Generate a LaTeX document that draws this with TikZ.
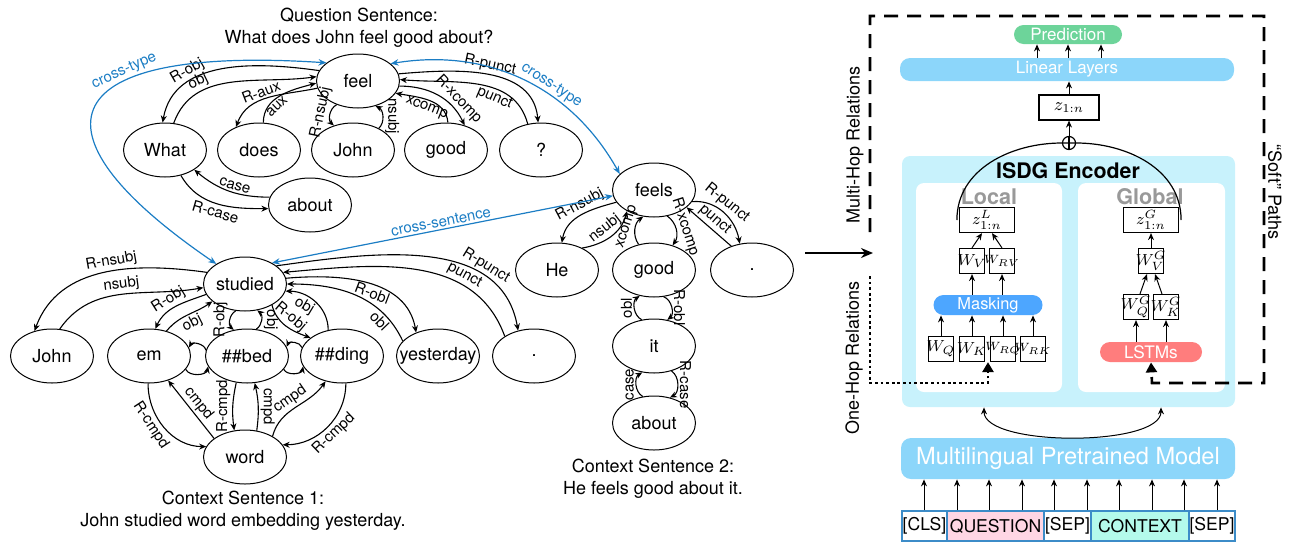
\documentclass[tikz,border=0pt]{standalone}
\usepackage{fontspec}
\setmainfont{TeX Gyre Heros}
\usetikzlibrary{arrows.meta,shapes.geometric}

\definecolor{crossblue}{HTML}{1B7DC4}
\definecolor{barblue}{HTML}{8CD6FA}
\definecolor{encblue}{HTML}{C8F2FC}
\definecolor{predgreen}{HTML}{6DD49A}
\definecolor{maskblue}{HTML}{4DA6FF}
\definecolor{lstmred}{HTML}{FF7D7D}
\definecolor{qpink}{HTML}{FFD6E4}
\definecolor{cmint}{HTML}{B4FAEB}
\definecolor{tokborder}{HTML}{3C8CC8}
\definecolor{panelgray}{HTML}{999999}

\tikzset{
  wordnode/.style={ellipse, draw, line width=0.5pt, minimum width=41.5pt, minimum height=27pt,
    inner sep=0pt, font=\fontsize{9}{10}\selectfont},
  dep/.style={-{Stealth[length=3.5pt,width=3pt]}, line width=0.55pt},
  lbl/.style={font=\fontsize{7.5}{8}\selectfont, inner sep=1pt},
  cross/.style={arrows={Stealth[length=4pt,width=3.2pt]-Stealth[length=4pt,width=3.2pt]},
    crossblue, line width=0.6pt},
  crosslbl/.style={lbl, text=crossblue},
  capt/.style={align=center, font=\fontsize{9}{11}\selectfont},
  bar/.style={rounded corners=5pt, inner sep=0pt, text=white},
  wbox/.style={draw, fill=white, line width=0.6pt, inner sep=0pt, minimum width=12.5pt,
    minimum height=12.5pt, font=\fontsize{8}{8}\selectfont},
  arr/.style={-{Stealth[length=3.5pt,width=3pt]}, line width=0.5pt},
  tokbox/.style={draw=tokborder, line width=0.6pt, inner sep=0pt, minimum height=15pt,
    font=\fontsize{8.8}{9}\selectfont},
  sidetext/.style={font=\fontsize{9}{10}\selectfont},
  bigtip/.style={-{Triangle[length=5pt,width=5.5pt]}},
}

\begin{document}
\begin{tikzpicture}[x=0.5pt,y=-0.5pt]
  \useasboundingbox (0,0) rectangle (1291,542);

  % question sentence
  \node[capt] (qcap) at (359,28) {Question Sentence:\\What does John feel good about?};
  \foreach \n/\x/\y/\t in {qfeel/358/81/feel, qwhat/165/150/What, qdoes/259/150/does,
      qjohn/353/150/John, qgood/446/150/good, qmark/541/150/?, qabout/310/205/about} {
    \node[wordnode] (\n) at (\x,\y) {\makebox[0pt]{\t}};
  }
  \draw[dep] (qfeel.165) to[out=172,in=80] node[lbl,sloped,above,pos=0.68] {R-obj} (qwhat.95);
  \draw[dep] (qwhat.72) to[out=70,in=188] node[lbl,sloped,above,pos=0.3] {obj} (qfeel.174);
  \draw[dep] (qfeel.190) to[out=192,in=70] node[lbl,sloped,above,pos=0.55] {R-aux} (qdoes.135);
  \draw[dep] (qdoes.81) to[out=90,in=195] node[lbl,sloped,below,pos=0.35] {aux} (qfeel.183);
  \draw[dep] (qfeel.228) to[bend right=55] node[lbl,anchor=south,rotate=78] {R-nsubj} (qjohn.128);
  \draw[dep] (qjohn.40) to[bend right=55] node[lbl,anchor=south,rotate=-90] {nsubj} (qfeel.305);
  \draw[dep] (qgood.86) to[out=95,in=-10] node[lbl,sloped,below,pos=0.5] {xcomp} (qfeel.342);
  \draw[dep] (qfeel.353) to[out=0,in=115] node[lbl,sloped,above,pos=0.72] {R-xcomp} (qgood.53);
  \draw[dep] (qfeel.10) to[out=5,in=95] node[lbl,sloped,above,pos=0.5] {R-punct} (qmark.96);
  \draw[dep] (qmark.117) to[out=105,in=-5] node[lbl,sloped,below,pos=0.35] {punct} (qfeel.2);
  \draw[dep] (qwhat.302) to[out=-60,in=180] node[lbl,sloped,below,pos=0.5] {R-case} (qabout.185);
  \draw[dep] (qabout.169) to[out=180,in=320] node[lbl,sloped,above,pos=0.45] {case} (qwhat.326);

  % context sentence 1
  \node[capt] (c1cap) at (243,510.5) {Context Sentence 1:\\John studied word embedding yesterday.};
  \foreach \n/\x/\y/\t in {cstudied/245/284/studied, cjohn/52/356/John, cem/149/356/em,
      cbed/247/356/\#\#bed, cding/342/356/\#\#ding, cyest/438/356/yesterday,
      cdot/534/356/., cword/245/457/word} {
    \node[wordnode] (\n) at (\x,\y) {\makebox[0pt]{\t}};
  }
  \draw[dep] (cstudied.163) to[out=172,in=70] node[lbl,sloped,above,pos=0.45] {R-nsubj} (cjohn.125);
  \draw[dep] (cjohn.74) to[out=55,in=190] node[lbl,sloped,above,pos=0.5] {nsubj} (cstudied.185);
  \draw[dep] (cstudied.195) to[out=200,in=65] node[lbl,sloped,above,pos=0.55] {R-obj} (cem.77);
  \draw[dep] (cem.55) to[out=50,in=215] node[lbl,sloped,below,pos=0.5] {obj} (cstudied.208);
  \draw[dep] (cstudied.251) to[bend right=55] node[lbl,anchor=south,rotate=90] {R-obj} (cbed.117);
  \draw[dep] (cbed.71) to[bend right=55] node[lbl,anchor=south,rotate=-90] {obj} (cstudied.295);
  \draw[dep] (cstudied.322) to[out=-75,in=160] node[lbl,sloped,above,pos=0.45] {R-obj} (cding.150);
  \draw[dep] (cding.118) to[out=90,in=0] node[lbl,sloped,below,pos=0.62] {obj} (cstudied.350);
  \draw[dep] (cstudied.8) to[out=5,in=100] node[lbl,sloped,below,pos=0.55] {R-obl} (cyest.133);
  \draw[dep] (cyest.157) to[out=115,in=0] node[lbl,sloped,below,pos=0.22] {obl} (cstudied.0);
  \draw[dep] (cstudied.30) to[out=8,in=100] node[lbl,sloped,above,pos=0.72] {R-punct} (cdot.122);
  \draw[dep] (cdot.146) to[out=110,in=5] node[lbl,sloped,above,pos=0.3] {punct} (cstudied.17);
  \draw[dep] (cbed.172) to[bend right=70] (cem.12);
  \draw[dep] (cem.340) to[bend right=70] (cbed.195);
  \draw[dep] (cding.168) to[bend right=70] (cbed.13);
  \draw[dep] (cbed.340) to[bend right=70] (cding.195);
  \draw[dep] (cem.268) to[out=270,in=180] node[lbl,sloped,below,pos=0.4] {R-cmpd} (cword.165);
  \draw[dep] (cword.149) -- node[lbl,sloped,above] {cmpd} (cem.308);
  \draw[dep] (cbed.248) to[bend right=10] node[lbl,anchor=south,rotate=90] {R-cmpd} (cword.112);
  \draw[dep] (cword.66) to[bend right=10] node[lbl,anchor=south,rotate=-90] {cmpd} (cbed.286);
  \draw[dep] (cword.37) to[out=75,in=235] node[lbl,sloped,above,pos=0.5] {cmpd} (cding.237);
  \draw[dep] (cding.278) to[out=270,in=0] node[lbl,sloped,below,pos=0.5] {R-cmpd} (cword.18);

  % context sentence 2
  \node[capt] (c2cap) at (653,478.5) {Context Sentence 2:\\He feels good about it.};
  \foreach \n/\x/\y/\t in {dfeels/654/190/feels, dhe/557/270/He, dgood/654/270/good,
      ddot/752/270/., dit/654/346/it, dabout/654/423/about} {
    \node[wordnode] (\n) at (\x,\y) {\makebox[0pt]{\t}};
  }
  \draw[dep] (dfeels.198) to[out=195,in=80] node[lbl,sloped,above,pos=0.45] {R-nsubj} (dhe.80);
  \draw[dep] (dhe.41) to[out=10,in=255] node[lbl,sloped,above,pos=0.5] {nsubj} (dfeels.218);
  \draw[dep] (dgood.121) to[bend left=45] node[lbl,anchor=south,rotate=72] {xcomp} (dfeels.248);
  \draw[dep] (dfeels.297) to[bend left=45] node[lbl,anchor=south,rotate=-72] {R-xcomp} (dgood.53);
  \draw[dep] (dfeels.343) to[out=5,in=100] node[lbl,sloped,above,pos=0.45] {R-punct} (ddot.115);
  \draw[dep] (ddot.131) -- node[lbl,sloped,above] {punct} (dfeels.332);
  \draw[dep] (dit.115) to[bend left=60] node[lbl,anchor=south,rotate=90] {obl} (dgood.241);
  \draw[dep] (dgood.290) to[bend left=60] node[lbl,anchor=south,rotate=-90] {R-obl} (dit.63);
  \draw[dep] (dabout.113) to[bend left=60] node[lbl,anchor=south,rotate=90] {case} (dit.246);
  \draw[dep] (dit.305) to[bend left=60] node[lbl,anchor=south,rotate=-90] {R-case} (dabout.58);

  % cross links
  \draw[cross] (cstudied.145) .. controls (20,130) and (55,45) .. (qfeel.150)
    node[crosslbl,sloped,above,pos=0.65] {cross-type};
  \draw[cross] (qfeel.28) to[bend left=35] node[crosslbl,sloped,above,pos=0.6] {cross-type} (dfeels.155);
  \draw[cross] (cstudied.38) -- node[crosslbl,sloped,above,pos=0.5] {cross-sentence} (dfeels.188);

  % model
  \node[bar, fill=predgreen, minimum width=54pt, minimum height=9.5pt, rounded corners=4.75pt,
    font=\fontsize{8.5}{9}\selectfont] (pred) at (1068,34.5) {Prediction};
  \node[bar, fill=barblue, minimum width=167pt, minimum height=11.5pt,
    font=\fontsize{8.5}{9}\selectfont] (linear) at (1067,69.5) {Linear Layers};
  \foreach \x in {1037,1068,1101} {
    \draw[arr] (linear.north -| \x,0) -- (pred.south -| \x,0);
  }
  \node[wbox, minimum width=30pt, font=\fontsize{9}{9}\selectfont] (zout) at (1069,107.5) {$z_{1:n}$};
  \draw[arr] (zout.north) -- (zout.north |- linear.south);
  \node[circle, draw, line width=0.6pt, inner sep=0pt, minimum size=6.5pt] (oplus) at (1069,143) {};
  \draw[line width=0.6pt] (oplus.north) -- (oplus.south);
  \draw[arr] (oplus.north) -- (zout.south);

  \node[fill=encblue, rounded corners=4pt, minimum width=166.5pt, minimum height=125.5pt] (enc) at (1068.5,281.5) {};
  \node[font=\bfseries\fontsize{10.7}{11}\selectfont] (enctitle) at (1068,171) {ISDG Encoder};
  \node[fill=white, rounded corners=4pt, minimum width=73pt, minimum height=104.5pt] (localp) at (989,287.5) {};
  \node[fill=white, rounded corners=4pt, minimum width=73.5pt, minimum height=104.5pt] (globalp) at (1151.5,287.5) {};
  \node[font=\bfseries\fontsize{10.8}{11}\selectfont, text=panelgray] (localt) at (989,197) {Local};
  \node[font=\bfseries\fontsize{10.8}{11}\selectfont, text=panelgray] (globalt) at (1150,197) {Global};

  \node[wbox, minimum width=27.5pt] (zl) at (987,220) {$z^{L}_{1:n}$};
  \node[wbox, minimum width=27.5pt] (zg) at (1151,220) {$z^{G}_{1:n}$};
  \draw[line width=0.6pt] ([xshift=-1pt]zl.west) to[out=90,in=180] (oplus.west) -- (oplus.east)
    to[out=0,in=90] ([xshift=1pt]zg.east);

  \node[wbox] (wv) at (972,261) {\makebox[0pt]{$W_V$}};
  \node[wbox, font=\fontsize{6}{6}\selectfont] (wrv) at (1002,261) {\makebox[0pt]{$W_{RV}$}};
  \node[wbox] (wgv) at (1151,261) {\makebox[0pt]{$W^G_V$}};
  \draw[arr] (wv.north) -- ([xshift=-2.5pt]zl.south);
  \draw[arr] (wrv.north) -- ([xshift=2.5pt]zl.south);
  \draw[arr] (wgv.north) -- (zg.south);

  \node[bar, fill=maskblue, minimum width=54.5pt, minimum height=10pt,
    font=\fontsize{8.2}{8}\selectfont] (mask) at (988,305) {Masking};
  \draw[arr] (mask.north -| wv) -- (wv.south);
  \draw[arr] (mask.north -| wrv) -- (wrv.south);
  \foreach \n/\x/\t/\f in {wq/941/{$W_Q$}/8, wk/972/{$W_K$}/8, wrq/1003/{$W_{RQ}$}/6, wrk/1033/{$W_{RK}$}/6} {
    \node[wbox, font=\fontsize{\f}{\f}\selectfont] (\n) at (\x,349) {\makebox[0pt]{\t}};
    \draw[arr] (\n.north) -- (mask.south -| \n);
  }

  \node[wbox] (wgq) at (1136,307) {\makebox[0pt]{$W^G_Q$}};
  \node[wbox] (wgk) at (1166,307) {\makebox[0pt]{$W^G_K$}};
  \draw[arr] ([xshift=2pt]wgq.north) -- ([xshift=-2pt]wgv.south);
  \draw[arr] ([xshift=-2pt]wgk.north) -- ([xshift=2pt]wgv.south);
  \node[bar, fill=lstmred, minimum width=51pt, minimum height=10pt,
    font=\fontsize{8.6}{9}\selectfont] (lstm) at (1151,352) {LSTMs};
  \draw[arr] (lstm.north -| wgq) -- (wgq.south);
  \draw[arr] (lstm.north -| wgk) -- (wgk.south);

  \node[bar, fill=barblue, minimum width=167pt, minimum height=20.5pt,
    font=\fontsize{11.8}{12}\selectfont] (mpm) at (1068,458.5) {Multilingual Pretrained Model};
  \draw[arrows={Stealth[length=3.5pt,width=3pt]-Stealth[length=3.5pt,width=3pt]}, line width=0.5pt]
    (enc.south -| 984,0) .. controls (984,447) and (1161,447) .. (enc.south -| 1161,0);

  \foreach \n/\x/\w/\c/\t in {cls/924.5/22.5/white/[CLS], ques/995.5/48.5/qpink/QUESTION,
      sep1/1067.5/23.5/white/[SEP], ctx/1140/49/cmint/CONTEXT, sep2/1212/23/white/[SEP]} {
    \node[tokbox, fill=\c, minimum width=\w pt] (\n) at (\x,526) {\t};
  }
  \foreach \x in {924,957,989,1022,1054,1087,1119,1152,1184,1217} {
    \draw[arr] (cls.north -| \x,0) -- (mpm.south -| \x,0);
  }

  % relations
  \coordinate (graphout) at (805,253);
  \coordinate (framein) at (873,253);
  \draw[-{Stealth[length=6pt,width=5pt]}, line width=1pt] (graphout) -- (framein);
  \draw[line width=1.3pt, dash pattern=on 7pt off 4.5pt, bigtip]
    (870,232) -- (870,16) -- (1264,16) -- (1264,383) -- (1152,383) -- (lstm.south);
  \draw[line width=1.4pt, dash pattern=on 1.4pt off 1.4pt, bigtip]
    (870,276) -- (870,383) -- (988,383) -- (mask |- wk.south);
  \node[sidetext, rotate=90] (multihop) at (855,145) {Multi-Hop Relations};
  \node[sidetext, rotate=90] (onehop) at (854,358) {One-Hop Relations};
  \node[sidetext, rotate=-90] (softpath) at (1275,192) {“Soft” Paths};
\end{tikzpicture}
\end{document}
